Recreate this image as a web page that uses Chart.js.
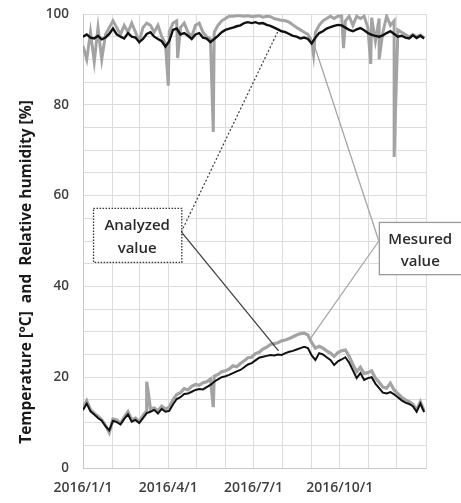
<!DOCTYPE html>
<html>
<head>
<meta charset="utf-8">
<script src="https://cdn.jsdelivr.net/npm/chart.js@4/dist/chart.umd.min.js"></script>
<style>
  body { margin: 0; background: #fff; }
  #wrap { width: 461px; height: 503px; }
</style>
</head>
<body>
<div id="wrap"><canvas id="myChart" width="461" height="503"></canvas></div>
<script>
'use strict';
// sampled every 4 days from 2016/1/1 (day 0) to day 364
let sampleStep = 4;

// relative humidity [%]
let rhAnalyzed = [95, 95.5, 94.8, 94.6, 95.2, 94.4, 94.8, 95.6, 96.8, 95.5, 95, 94.6, 95.8, 95, 94.8, 93.8,
    94.5, 95.6, 96, 95, 94.5, 94, 92.8, 94, 96.5, 96.8, 95.5, 95.8, 95.2, 94.5, 95.5, 95.8,
    94.8, 94.6, 93.8, 94.5, 95.2, 96, 96.5, 96.8, 97, 97.3, 97.5, 98, 98.2, 98, 98.2, 97.9,
    98, 97.6, 97.4, 97, 96.6, 96.2, 96, 95.6, 95.2, 95, 94.6, 94.8, 94.5, 93.5, 94.8, 95.8,
    96.2, 96.8, 97.1, 97.4, 97.6, 97.5, 97, 96.5, 96.2, 96.6, 96.9, 96.4, 95.8, 95.4, 95.2, 95,
    95.3, 95.8, 96.2, 95.6, 95, 95.2, 94.8, 94.6, 95.3, 94.7, 95.2, 94.6];
let rhMeasured = [93, 90, 96, 89.5, 97, 90, 95.5, 97, 98.5, 97, 95.5, 97.5, 96, 98, 96, 94,
    97, 98, 97.5, 96, 97.5, 95, 93.5, 96, 98, 98.5, 97, 98, 96, 95, 97.5, 98,
    96, 95, 94.5, 96, 97.5, 98.5, 99, 99.5, 99.5, 99.6, 99.6, 99.5, 99.6, 99.4, 99.5, 99.6,
    99.3, 99.5, 99.4, 99, 98.8, 98.6, 98.5, 98.2, 97.6, 97, 96.5, 96, 95.5, 94, 96, 97.5,
    98.5, 99, 99.5, 99, 99.5, 99.6, 98.5, 99.5, 97.5, 99.5, 99, 99.5, 97, 99.2, 94, 99,
    96, 99.5, 97.5, 98.5, 96.5, 96, 95.5, 95, 95.5, 95, 95.4, 94.8];
let rhSpikeDays = [91, 101, 139, 246, 278, 307, 316, 332];
let rhSpikeValues = [84.2, 90.3, 74, 91, 92.5, 89, 90, 68.5];

// temperature [°C]
let tAnalyzed = [12.8, 14.2, 12.5, 11.8, 11, 10.4, 9.2, 8.3, 10.4, 10.1, 9.6, 10.8, 11.8, 10.2, 10.6, 9.9,
    11, 12.1, 12.4, 12.8, 12, 13, 12.4, 12.6, 14, 15.2, 15.6, 16.3, 16.4, 16.8, 17.2, 17.4,
    17.3, 17.8, 18.3, 19, 19.5, 20, 20.2, 20.5, 20.9, 21.3, 21.6, 22.2, 22.8, 23.1, 23.7, 24.3,
    24.5, 24.7, 24.9, 24.8, 25, 24.9, 25.3, 25.6, 25.8, 26.1, 26.4, 26.7, 26.4, 24.8, 23.8, 25.3,
    25, 24.4, 23.8, 22.7, 23.5, 23.9, 24.4, 23.2, 21.5, 19.8, 20.9, 19.4, 19.8, 20, 18.6, 17.6,
    16.6, 16.4, 16.7, 16.2, 15.6, 14.9, 14.4, 14.1, 13.6, 12.4, 14.2, 12.3];
let tMeasured = [13.2, 14.8, 12.8, 12, 11.4, 10.6, 9.4, 7.8, 10.8, 10.6, 9.8, 11.2, 12.4, 10.6, 11, 10.2,
    11.6, 12.6, 13, 13.2, 12.6, 13.6, 13, 13.4, 15, 16.2, 16.6, 17.5, 17.2, 18, 18.4, 18.2,
    18.8, 19, 19.6, 20.2, 20.6, 21.2, 21.4, 21.8, 22.5, 22.3, 23, 23.6, 24.3, 24.4, 25.2, 25.5,
    26.2, 26.6, 27.2, 27.4, 27.6, 28, 28.2, 28.5, 28.9, 29.3, 29.6, 29.7, 29.3, 27.6, 26.4, 26.8,
    26.4, 25.8, 25.3, 24.6, 25.4, 25.8, 26, 24.6, 22.8, 21.2, 22.2, 20.8, 21, 21.4, 19.8, 18.9,
    17.8, 17.6, 18.7, 17.2, 16.4, 15.6, 15, 14.6, 14, 12.8, 14.6, 12.6];
let tSpikeDays = [68, 139];
let tSpikeValues = [19, 13.4];

// x axis: month starts of 2016 (days since 2016/1/1)
let monthDays = [0, 31, 60, 91, 121, 152, 182, 213, 244, 274, 305, 335, 366];
let monthLabels = ['2016/1/1', '', '', '2016/4/1', '', '', '2016/7/1', '', '', '2016/10/1', '', '', ''];
let yLabelEvery = 20;
let yTitle = 'Temperature [°C]  and  Relative humidity [%]';

// callouts (data units)
let analyzedBox = { x1: 10.7, x2: 104.9, y1: 57.3, y2: 45.4, text: ['Analyzed', 'value'] };
let analyzedFrom = { x: 104.9, y: 52 };
let analyzedTo = [{ x: 208.7, y: 96.5, dash: [2, 2] }, { x: 208.7, y: 25.8, dash: [] }];
let measuredBox = { x1: 315.7, x2: 404, y1: 54.2, y2: 42.7, text: ['Mesured', 'value'] };
let measuredFrom = { x: 315.7, y: 50 };
let measuredTo = [{ x: 246, y: 93.6 }, { x: 243, y: 28.6 }];

function toPoints(values, spikeDays, spikeValues) {
    let pts = [];
    for (let i = 0; i < values.length; i++) {
        pts.push({ x: i * sampleStep, y: values[i] });
    }
    for (let j = 0; j < spikeDays.length; j++) {
        pts.push({ x: spikeDays[j], y: spikeValues[j] });
    }
    pts.sort(function (a, b) { return a.x - b.x; });
    return pts;
}

let calloutPlugin = {
    id: 'callouts',
    afterDatasetsDraw(chart) {
        let ctx = chart.ctx;
        let xs = chart.scales.x;
        let ys = chart.scales.y;
        function px(p) { return [xs.getPixelForValue(p.x), ys.getPixelForValue(p.y)]; }

        ctx.save();
        // analyzed pointers
        let a = px(analyzedFrom);
        analyzedTo.forEach(function (t) {
            let b = px(t);
            ctx.beginPath();
            ctx.setLineDash(t.dash);
            ctx.strokeStyle = '#3a3a3a';
            ctx.lineWidth = 1.2;
            ctx.moveTo(a[0], a[1]);
            ctx.lineTo(b[0], b[1]);
            ctx.stroke();
        });
        // measured pointers
        let m = px(measuredFrom);
        measuredTo.forEach(function (t) {
            let b = px(t);
            ctx.beginPath();
            ctx.setLineDash([]);
            ctx.strokeStyle = '#a6a6a6';
            ctx.lineWidth = 1.3;
            ctx.moveTo(m[0], m[1]);
            ctx.lineTo(b[0], b[1]);
            ctx.stroke();
        });

        function drawBox(box, border, dash) {
            let l = xs.getPixelForValue(box.x1), r = xs.getPixelForValue(box.x2);
            let t = ys.getPixelForValue(box.y1), btm = ys.getPixelForValue(box.y2);
            ctx.setLineDash([]);
            ctx.fillStyle = '#fff';
            ctx.fillRect(l, t, r - l, btm - t);
            ctx.setLineDash(dash);
            ctx.strokeStyle = border;
            ctx.lineWidth = 1.3;
            ctx.strokeRect(l + 0.5, t + 0.5, r - l, btm - t);
            ctx.setLineDash([]);
            ctx.fillStyle = '#2b2b2b';
            ctx.font = '600 15px "Open Sans"';
            ctx.textAlign = 'center';
            ctx.textBaseline = 'middle';
            let cx = (l + r) / 2, h = btm - t;
            ctx.fillText(box.text[0], cx, t + h * 0.34);
            ctx.fillText(box.text[1], cx, t + h * 0.76);
        }
        drawBox(analyzedBox, '#333', [1.5, 1.5]);
        drawBox(measuredBox, '#9a9a9a', []);

        // axis title, a bit below the plot centre as in the original
        let area = chart.chartArea;
        ctx.translate(27, (area.top + area.bottom) / 2 + 31);
        ctx.rotate(-Math.PI / 2);
        ctx.fillStyle = '#1a1a1a';
        ctx.font = 'bold 15.5px "Open Sans"';
        ctx.fillText(yTitle, 0, 0);
        ctx.restore();
    }
};

let ctx = document.getElementById('myChart').getContext('2d');
Chart.defaults.font.family = '"Open Sans", sans-serif';
Chart.defaults.color = '#404040';

let myChart = new Chart(ctx, {
    type: 'line',
    data: {
        datasets: [{
            label: 'RH analyzed',
            data: toPoints(rhAnalyzed, [], []),
            borderColor: '#111',
            borderWidth: 2.4,
            order: 1
        }, {
            label: 'T analyzed',
            data: toPoints(tAnalyzed, [], []),
            borderColor: '#111',
            borderWidth: 2,
            order: 2
        }, {
            label: 'RH measured',
            data: toPoints(rhMeasured, rhSpikeDays, rhSpikeValues),
            borderColor: '#a3a3a3',
            borderWidth: 3,
            order: 3
        }, {
            label: 'T measured',
            data: toPoints(tMeasured, tSpikeDays, tSpikeValues),
            borderColor: '#a3a3a3',
            borderWidth: 3.2,
            order: 4
        }]
    },
    options: {
        responsive: false,
        animation: false,
        parsing: false,
        elements: { point: { radius: 0 }, line: { tension: 0 } },
        layout: { padding: { top: 14, right: 35, left: 0, bottom: 0 } },
        plugins: { legend: { display: false }, tooltip: { enabled: false } },
        scales: {
            x: {
                type: 'linear',
                min: 0,
                max: 366,
                afterBuildTicks: function (scale) {
                    scale.ticks = monthDays.map(function (d) { return { value: d }; });
                },
                afterFit: function (scale) {
                    scale.height = 35;
                    scale.paddingLeft = 0;
                    scale.paddingRight = 0;
                },
                grid: { color: '#dcdcdc', lineWidth: 1, drawTicks: false },
                border: { color: '#c8c8c8' },
                ticks: {
                    autoSkip: false,
                    maxRotation: 0,
                    padding: 12,
                    font: { size: 14, weight: '600' },
                    callback: function (value) {
                        let i = monthDays.indexOf(value);
                        return i >= 0 ? monthLabels[i] : '';
                    }
                }
            },
            y: {
                min: 0,
                max: 100,
                afterFit: function (scale) {
                    scale.width = 83;
                    scale.paddingTop = 0;
                    scale.paddingBottom = 0;
                },
                grid: { color: '#dcdcdc', lineWidth: 1, drawTicks: false },
                border: { color: '#c8c8c8' },
                ticks: {
                    stepSize: 5,
                    padding: 14,
                    font: { size: 13.5, weight: '600' },
                    callback: function (value) {
                        return value % yLabelEvery === 0 ? value : '';
                    }
                }
            }
        }
    },
    plugins: [calloutPlugin]
});
</script>
</body>
</html>
